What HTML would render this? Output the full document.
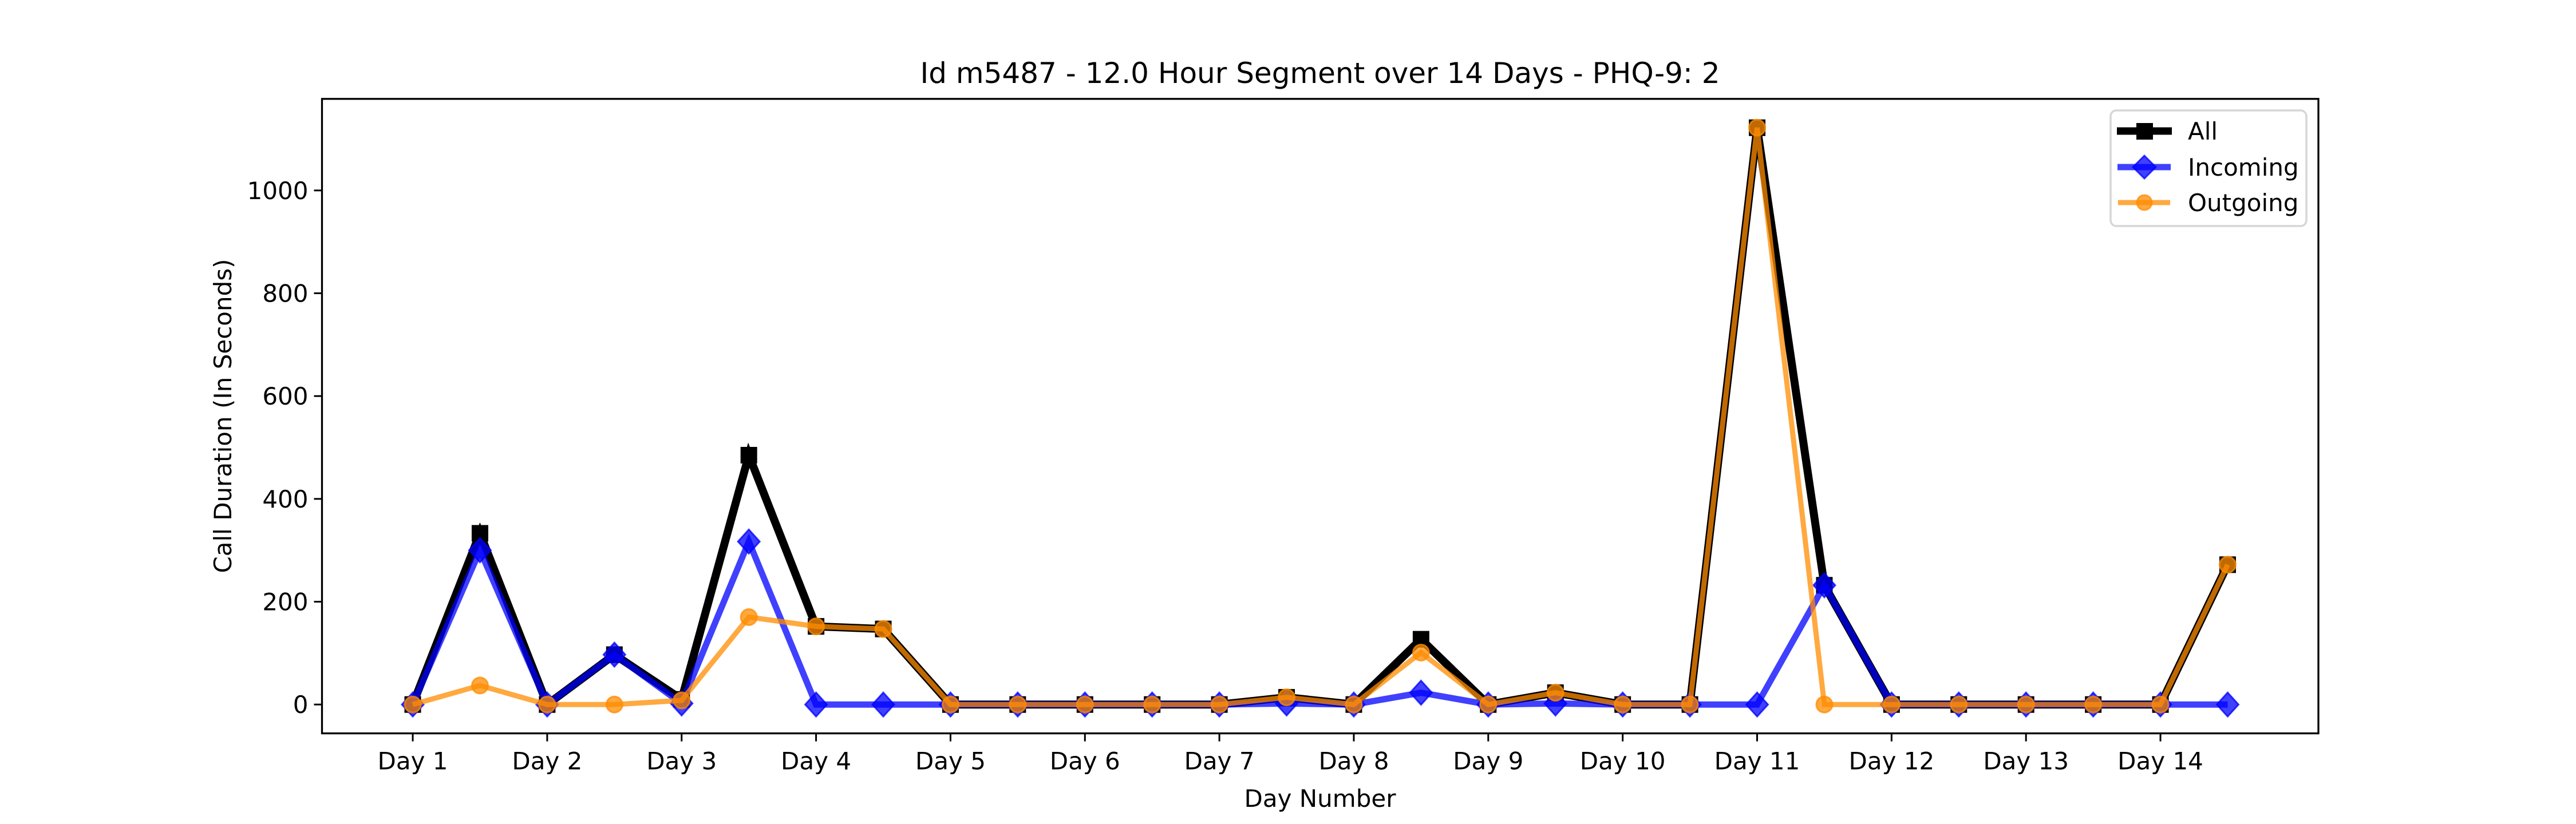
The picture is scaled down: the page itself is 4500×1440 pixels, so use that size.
<!DOCTYPE html>
<html><head><meta charset="utf-8"><style>
html,body{margin:0;padding:0;background:#fff;}
svg{display:block;font-family:"DejaVu Sans","Liberation Sans",sans-serif;}
</style></head><body>
<svg id="chart" width="4500" height="1440" viewBox="0 0 4500 1440" xmlns="http://www.w3.org/2000/svg">
<rect width="4500" height="1440" fill="#fff"/>
<g id="marks"></g>
<rect x="562.5" y="172.8" width="3487.5" height="1108.8" fill="none" stroke="#000" stroke-width="3.3"/>
<g id="axes"></g>
<text x="2306" y="145" font-size="50" text-anchor="middle">Id m5487 - 12.0 Hour Segment over 14 Days - PHQ-9: 2</text>
<text x="2306" y="1410" font-size="42" text-anchor="middle">Day Number</text>
<text transform="translate(404,727) rotate(-90)" font-size="42" text-anchor="middle">Call Duration (In Seconds)</text>
<g id="legend">
<rect x="3687" y="193" width="342" height="202" rx="10" fill="#fff" fill-opacity="0.8" stroke="#d6d6d6" stroke-width="3.5"/>
<g>
<line x1="3698" y1="229" x2="3794" y2="229" stroke="#000" stroke-width="13"/>
<rect x="3732" y="215" width="29" height="29" fill="#000"/>
<text x="3822" y="244" font-size="42">All</text></g>
<g>
<line x1="3699" y1="292" x2="3792" y2="292" stroke="#0000ff" stroke-opacity="0.75" stroke-width="11"/>
<polygon points="3746,272 3766,292 3746,312 3726,292" fill="#0000ff" fill-opacity="0.75" stroke="#0000ff" stroke-opacity="0.75" stroke-width="3"/>
<text x="3822" y="307" font-size="42">Incoming</text></g>
<g>
<line x1="3700" y1="354" x2="3791" y2="354" stroke="#ff8c00" stroke-opacity="0.75" stroke-width="9"/>
<circle cx="3746" cy="354" r="13" fill="#ff8c00" fill-opacity="0.75" stroke="#ff8c00" stroke-opacity="0.75" stroke-width="3"/>
<text x="3822" y="369" font-size="42">Outgoing</text></g>
</g>
</svg>
<script>
const dayLabels = ["Day 1","Day 2","Day 3","Day 4","Day 5","Day 6","Day 7","Day 8","Day 9","Day 10","Day 11","Day 12","Day 13","Day 14"];
const yTicks = [0,200,400,600,800,1000];
const allValues = [0,333,0,97,10,485,152,147,0,0,0,0,0,14,0,127,0,23,0,0,1122,232,0,0,0,0,0,272];
const incomingValues = [0,300,0,97,2,317,0,0,0,0,0,0,0,2,0,23,0,2,0,0,0,232,0,0,0,0,0,0];
const outgoingValues = [0,37,0,0,8,170,152,147,0,0,0,0,0,14,0,101,0,23,0,0,1122,0,0,0,0,0,0,272];

const L=562.5,R=4050,T=172.8,B=1281.6;
const n=allValues.length;
const xmin=-0.05*(n-1), xmax=(n-1)*1.05;
const allMax=Math.max(...allValues,...incomingValues,...outgoingValues);
const allMin=Math.min(...allValues,...incomingValues,...outgoingValues);
const pad=(allMax-allMin)*0.05;
const ymin=allMin-pad, ymax=allMax+pad;
const xs=i=>L+(i-xmin)/(xmax-xmin)*(R-L);
const ys=v=>B-(v-ymin)/(ymax-ymin)*(B-T);
const NS="http://www.w3.org/2000/svg";
function mk(tag,attrs,parent){const e=document.createElementNS(NS,tag);for(const k in attrs)e.setAttribute(k,attrs[k]);parent.appendChild(e);return e;}
const axes=document.getElementById('axes'), marks=document.getElementById('marks');

yTicks.forEach(v=>{
  const y=ys(v);
  const t=mk('line',{x1:L-14,y1:y,x2:L,y2:y,stroke:'#000','stroke-width':3},axes);
  
  
  const tx=mk('text',{x:L-24,y:y+15,'font-size':42,'text-anchor':'end'},axes);
  tx.textContent=v;
  
  
});
dayLabels.forEach((d,k)=>{
  const x=xs(k*2);
  const t=mk('line',{x1:x,y1:B,x2:x,y2:B+14,stroke:'#000','stroke-width':3},axes);
  
  
  const tx=mk('text',{x:x,y:B+63,'font-size':42,'text-anchor':'middle'},axes);
  tx.textContent=d;
  
  
});

function series(vals,name,color,op,lw,marker){
  const g=mk('g',{},marks);
  
  
  const pts=vals.map((v,i)=>xs(i)+','+ys(v)).join(' ');
  const pl=mk('polyline',{points:pts,fill:'none',stroke:color,'stroke-opacity':op,'stroke-width':lw,'stroke-linejoin':'miter'},g);
  
  
  vals.forEach((v,i)=>{
    const x=xs(i),y=ys(v);let m;
    if(marker==='s') m=mk('rect',{x:x-14.5,y:y-14.5,width:29,height:29,fill:color},g);
    else if(marker==='d') m=mk('polygon',{points:`${x},${y-21} ${x+19},${y} ${x},${y+21} ${x-19},${y}`,fill:color,'fill-opacity':op,stroke:color,'stroke-opacity':op,'stroke-width':3},g);
    else m=mk('circle',{cx:x,cy:y,r:14,fill:color,'fill-opacity':op,stroke:color,'stroke-opacity':op,'stroke-width':3},g);
    
    
  });
}
series(allValues,'all','#000',1,14,'s');
series(incomingValues,'incoming','#0000ff',0.75,11,'d');
series(outgoingValues,'outgoing','#ff8c00',0.75,9,'o');
</script>
</body></html>
